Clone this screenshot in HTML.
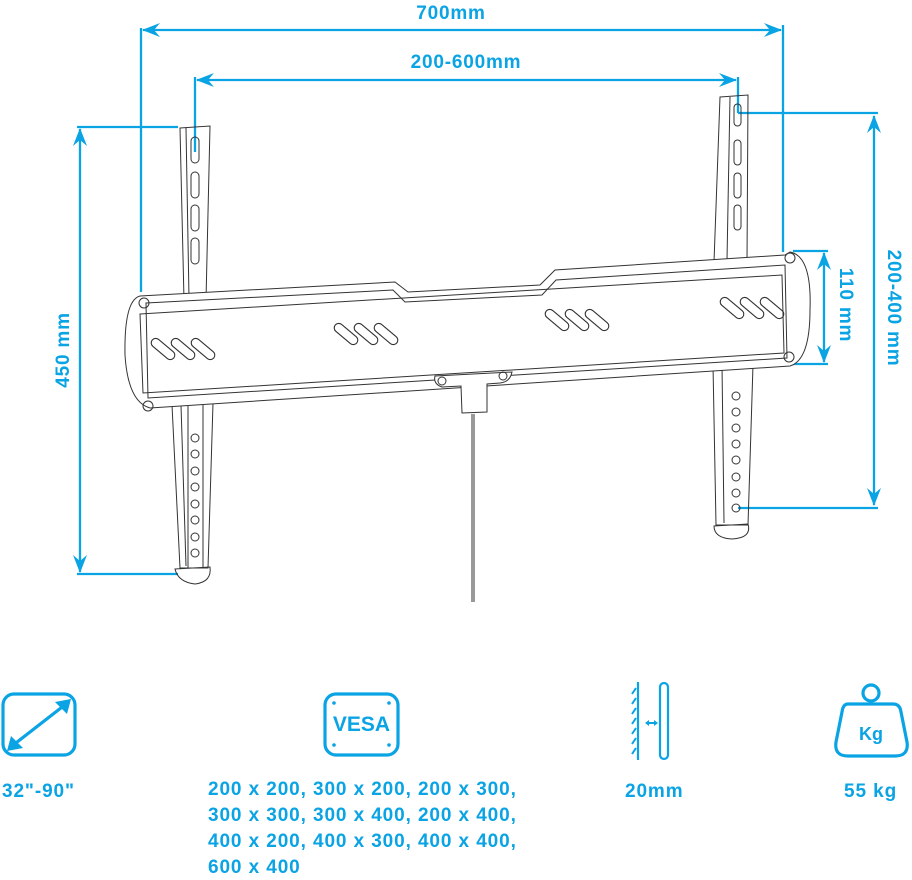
<!DOCTYPE html>
<html><head><meta charset="utf-8"><style>
html,body{margin:0;padding:0;background:#fff;width:912px;height:880px;overflow:hidden}
svg{display:block}
.t{font-family:"Liberation Sans",sans-serif;font-weight:bold;fill:#0aa3e4}
</style></head><body>
<svg width="912" height="880" viewBox="0 0 912 880" xmlns="http://www.w3.org/2000/svg">
<defs>
<marker id="a" markerWidth="18" markerHeight="14" refX="17" refY="7" orient="auto-start-reverse" markerUnits="userSpaceOnUse">
<path d="M0,0 L18,7 L0,14 L6,7 Z" fill="#0aa3e4"/></marker>
</defs>
<g stroke="#0aa3e4" stroke-width="2.3" fill="none">
<line x1="141" y1="28" x2="141" y2="292"/>
<line x1="783" y1="25" x2="783" y2="252"/>
<line x1="143" y1="30" x2="781" y2="30" marker-start="url(#a)" marker-end="url(#a)"/>
<line x1="195" y1="77" x2="195" y2="152"/>
<line x1="738" y1="77" x2="738" y2="113"/>
<line x1="738" y1="113" x2="878" y2="113"/>
<line x1="197" y1="80" x2="736" y2="80" marker-start="url(#a)" marker-end="url(#a)"/>
<line x1="77" y1="127" x2="178" y2="127"/>
<line x1="77" y1="574" x2="178" y2="574"/>
<line x1="80" y1="129" x2="80" y2="572" marker-start="url(#a)" marker-end="url(#a)"/>
<line x1="738" y1="508" x2="878" y2="508"/>
<line x1="874" y1="116" x2="874" y2="505" marker-start="url(#a)" marker-end="url(#a)"/>
<line x1="793" y1="251" x2="828" y2="251"/>
<line x1="793" y1="364" x2="828" y2="364"/>
<line x1="824" y1="253" x2="824" y2="362" marker-start="url(#a)" marker-end="url(#a)"/>
</g>
<g class="t" font-size="19" letter-spacing="0.8" text-anchor="middle">
<text x="451" y="19">700mm</text>
<text x="466" y="68">200-600mm</text>
<text transform="translate(69,350) rotate(-90)">450 mm</text>
<text transform="translate(888,308) rotate(90)">200-400 mm</text>
<text transform="translate(840,305) rotate(90)">110 mm</text>
</g>

<g stroke="#333" stroke-width="1" fill="none">
<path d="M180,128 L210,126 L206,300 L184,300 Z"/>
<line x1="186" y1="128" x2="189" y2="298"/>
<rect x="191" y="137" width="8" height="26" rx="4"/>
<rect x="191" y="172" width="8" height="26" rx="4"/>
<rect x="191" y="205" width="8" height="26" rx="4"/>
<rect x="191" y="238" width="8" height="26" rx="4"/>
<path d="M172,405 L213,403 L208,568 L180,568 Z"/>
<line x1="181" y1="405" x2="186" y2="566"/>
<path d="M188,405 L188,568 M203,405 L203,568"/>
<g>
<circle cx="195" cy="438" r="4"/><circle cx="195" cy="454" r="4"/><circle cx="195" cy="471" r="4"/><circle cx="195" cy="487" r="4"/><circle cx="195" cy="504" r="4"/><circle cx="195" cy="520" r="4"/><circle cx="195" cy="537" r="4"/><circle cx="195" cy="553" r="4"/>
</g>
<path d="M175,569 L210,567 Q212,582 195,584 Q178,582 175,569 Z"/>
<path d="M720,97 L748,95 L747,262 L714,262 Z"/>
<line x1="730" y1="97" x2="727" y2="260"/>
<rect x="734" y="104" width="7" height="22" rx="3.5"/>
<rect x="734" y="140" width="7" height="25" rx="3.5"/>
<rect x="734" y="173" width="7" height="25" rx="3.5"/>
<rect x="734" y="205" width="7" height="25" rx="3.5"/>
<path d="M713,365 L753,365 L748,525 L716,525 Z"/>
<line x1="722" y1="365" x2="724" y2="523"/>
<g>
<circle cx="736" cy="396" r="4"/><circle cx="736" cy="412" r="4"/><circle cx="736" cy="428" r="4"/><circle cx="736" cy="444" r="4"/><circle cx="736" cy="460" r="4"/><circle cx="736" cy="477" r="4"/><circle cx="736" cy="493" r="4"/><circle cx="736" cy="508" r="4"/>
</g>
<path d="M714,526 L748,524 Q752,538 732,539 Q714,538 714,526 Z"/>
<path d="M140,296 L395,282 L408,292 L540,285 L555,270 L785,255 L790,252 Q812,256 810,310 Q810,360 790,366 L150,408 Q128,402 125,355 Q124,300 140,296 Z" fill="#fff"/>
<path d="M146,303 L393,290 L405,302 L542,295 L556,280 L785,265 L787,358 L148,398 Z" fill="#fff"/>
<path d="M140,314 L782,275 L784,353 L143,393 Z"/>
<circle cx="144" cy="303" r="5"/><circle cx="148" cy="406" r="5"/>
<circle cx="790" cy="258" r="5"/><circle cx="789" cy="357" r="5"/>
<g stroke-width="1.1">
<rect x="-14" y="-4.5" width="28" height="9" rx="4.5" transform="translate(163,349) rotate(40)"/>
<rect x="-14" y="-4.5" width="28" height="9" rx="4.5" transform="translate(183,349) rotate(40)"/>
<rect x="-14" y="-4.5" width="28" height="9" rx="4.5" transform="translate(203,349) rotate(40)"/>
<rect x="-14" y="-4.5" width="28" height="9" rx="4.5" transform="translate(346,334) rotate(40)"/>
<rect x="-14" y="-4.5" width="28" height="9" rx="4.5" transform="translate(366,334) rotate(40)"/>
<rect x="-14" y="-4.5" width="28" height="9" rx="4.5" transform="translate(386,334) rotate(40)"/>
<rect x="-14" y="-4.5" width="28" height="9" rx="4.5" transform="translate(557,320) rotate(40)"/>
<rect x="-14" y="-4.5" width="28" height="9" rx="4.5" transform="translate(577,320) rotate(40)"/>
<rect x="-14" y="-4.5" width="28" height="9" rx="4.5" transform="translate(597,320) rotate(40)"/>
<rect x="-14" y="-4.5" width="28" height="9" rx="4.5" transform="translate(732,308) rotate(40)"/>
<rect x="-14" y="-4.5" width="28" height="9" rx="4.5" transform="translate(752,308) rotate(40)"/>
<rect x="-14" y="-4.5" width="28" height="9" rx="4.5" transform="translate(772,308) rotate(40)"/>
</g>
<path d="M435,376 L512,372 Q510,382 500,383 L487,384 L487,412 L462,413 L461,386 L442,387 Q433,384 435,376 Z" fill="#fff"/>
<circle cx="442" cy="381" r="4"/><circle cx="503" cy="376" r="4"/>
<line x1="474" y1="414" x2="474" y2="602"/>
<line x1="472" y1="414" x2="472" y2="602"/>
</g>

<g stroke="#0aa3e4" stroke-width="3.2" fill="none">
<rect x="3" y="694" width="72" height="61" rx="11"/>
<line x1="12" y1="746" x2="66" y2="704"/>
<rect x="325" y="694" width="73" height="61" rx="11"/>
<line x1="638" y1="682" x2="638" y2="760" stroke-width="2.2"/>
<rect x="660" y="683" width="8" height="76" rx="4" stroke-width="2.2"/>
<path d="M648,723 L655,723" stroke-width="2"/>
<circle cx="871" cy="693" r="8"/>
<path d="M848,704 L893,704 Q900,704 901,712 L907,742 Q909,756 895,756 L848,756 Q834,756 836,742 L842,712 Q843,704 848,704 Z"/>
</g>
<g stroke="#0aa3e4" stroke-width="2">
<path d="M636,688 l-4,6 M636,698 l-4,6 M636,708 l-4,6 M636,718 l-4,6 M636,728 l-4,6 M636,738 l-4,6 M636,748 l-4,6"/>
</g>
<g fill="#0aa3e4">
<path d="M71,699 L55,702 L67,714 Z"/>
<path d="M7,751 L23,748 L11,736 Z"/>
<path d="M645,723 l4,-3 v6 Z M658,723 l-4,-3 v6 Z"/>
<circle cx="334" cy="703" r="1.8"/><circle cx="389" cy="703" r="1.8"/>
<circle cx="334" cy="745" r="1.8"/><circle cx="389" cy="745" r="1.8"/>
</g>
<text class="t" x="361.5" y="731" font-size="21" text-anchor="middle">VESA</text>
<text class="t" x="871" y="740" font-size="18" text-anchor="middle">Kg</text>

<g class="t" font-size="19" letter-spacing="0.9">
<text x="2" y="797">32"-90"</text>
<text x="208" y="795">200 x 200, 300 x 200, 200 x 300,</text>
<text x="208" y="821">300 x 300, 300 x 400, 200 x 400,</text>
<text x="208" y="847">400 x 200, 400 x 300, 400 x 400,</text>
<text x="208" y="873">600 x 400</text>
<text x="625" y="797">20mm</text>
<text x="844" y="797">55 kg</text>
</g>
</svg>
</body></html>
